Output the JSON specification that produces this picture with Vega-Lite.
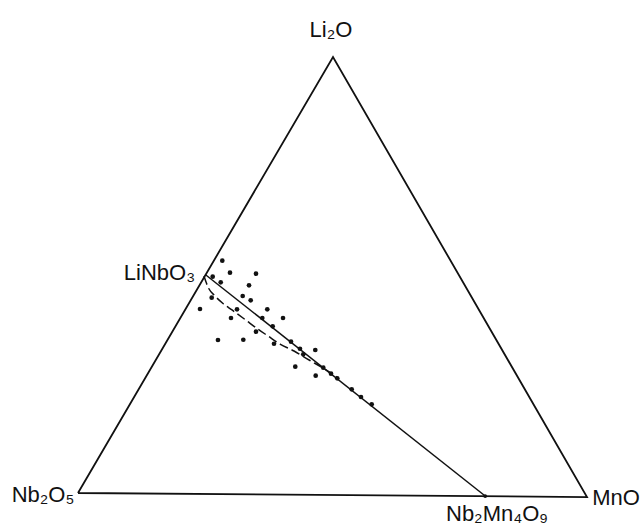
{
  "$schema": "https://vega.github.io/schema/vega-lite/v6.json",
  "width": 643,
  "height": 528,
  "padding": 0,
  "autosize": {"type": "none"},
  "background": "white",
  "config": {"view": {"stroke": null}},
  "datasets": {
    "frame": [
      {"i": 1, "x": 0, "y": 0.4},
      {"i": 2, "x": 50.1, "y": 86.6},
      {"i": 3, "x": 100, "y": -0.4},
      {"i": 4, "x": 0, "y": 0.4}
    ],
    "tie": [
      {"i": 1, "x": 25.0, "y": 43.6},
      {"i": 2, "x": 80, "y": -0.2}
    ],
    "dashed": [
      {"i": 1, "x": 24.75, "y": 43.3},
      {"i": 2, "x": 25.54, "y": 41.12},
      {"i": 3, "x": 26.92, "y": 39.34},
      {"i": 4, "x": 28.49, "y": 37.86},
      {"i": 5, "x": 30.26, "y": 36.58},
      {"i": 6, "x": 32.81, "y": 34.7},
      {"i": 7, "x": 35.17, "y": 32.92},
      {"i": 8, "x": 37.33, "y": 31.44},
      {"i": 9, "x": 39.69, "y": 29.85},
      {"i": 10, "x": 42.44, "y": 28.47},
      {"i": 11, "x": 45.58, "y": 26.59},
      {"i": 12, "x": 48.13, "y": 25.11},
      {"i": 13, "x": 50.88, "y": 23.33}
    ],
    "points": [
      {"x": 28.35, "y": 46.32},
      {"x": 29.86, "y": 43.95},
      {"x": 34.97, "y": 43.75},
      {"x": 26.46, "y": 43.16},
      {"x": 28.04, "y": 42.05},
      {"x": 33.6, "y": 41.46},
      {"x": 32.36, "y": 39.34},
      {"x": 33.93, "y": 38.49},
      {"x": 26.27, "y": 39.01},
      {"x": 23.97, "y": 36.77},
      {"x": 31.24, "y": 36.71},
      {"x": 37.19, "y": 36.71},
      {"x": 30.06, "y": 34.99},
      {"x": 36.21, "y": 34.99},
      {"x": 40.28, "y": 34.99},
      {"x": 38.25, "y": 33.35},
      {"x": 34.97, "y": 32.29},
      {"x": 27.5, "y": 30.64},
      {"x": 32.48, "y": 30.7},
      {"x": 38.51, "y": 29.91},
      {"x": 41.85, "y": 30.31},
      {"x": 43.61, "y": 28.92},
      {"x": 46.62, "y": 28.67},
      {"x": 44.26, "y": 27.82},
      {"x": 42.69, "y": 25.37},
      {"x": 48.19, "y": 25.17},
      {"x": 46.7, "y": 23.59},
      {"x": 49.71, "y": 23.98},
      {"x": 50.94, "y": 23.07},
      {"x": 53.77, "y": 20.9},
      {"x": 55.6, "y": 19.38},
      {"x": 57.7, "y": 17.93}
    ],
    "labels": [
      {"label": "Li₂O", "x": 49.7, "y": 90.55},
      {"label": "LiNbO₃", "x": 16.01, "y": 42.51},
      {"label": "Nb₂O₅", "x": -6.88, "y": -1.38},
      {"label": "MnO", "x": 105.7, "y": -1.98},
      {"label": "Nb₂Mn₄O₉", "x": 82.32, "y": -5.14}
    ]
  },
  "encoding": {
    "x": {"field": "x", "type": "quantitative", "scale": {"domain": [-15.32, 111.0], "nice": false, "zero": false}, "axis": null},
    "y": {"field": "y", "type": "quantitative", "scale": {"domain": [-6.52, 97.86], "nice": false, "zero": false}, "axis": null}
  },
  "layer": [
    {
      "data": {"name": "frame"},
      "mark": {"type": "line", "color": "#111", "strokeWidth": 1.8},
      "encoding": {"order": {"field": "i", "type": "quantitative"}}
    },
    {
      "data": {"name": "tie"},
      "mark": {"type": "line", "color": "#111", "strokeWidth": 1.5},
      "encoding": {"order": {"field": "i", "type": "quantitative"}}
    },
    {
      "data": {"name": "dashed"},
      "mark": {"type": "line", "color": "#111", "strokeWidth": 1.5, "strokeDash": [9, 4], "interpolate": "monotone"},
      "encoding": {"order": {"field": "i", "type": "quantitative"}}
    },
    {
      "data": {"name": "points"},
      "mark": {"type": "circle", "color": "#111", "opacity": 1, "size": 22}
    },
    {
      "data": {"name": "tie"},
      "transform": [{"filter": "datum.i == 2"}],
      "mark": {"type": "circle", "color": "#111", "opacity": 1, "size": 14}
    },
    {
      "data": {"name": "labels"},
      "mark": {"type": "text", "font": "Liberation Sans, DejaVu Sans", "fontSize": 22, "color": "#111", "align": "center", "baseline": "alphabetic"},
      "encoding": {"text": {"field": "label", "type": "nominal"}}
    }
  ]
}
